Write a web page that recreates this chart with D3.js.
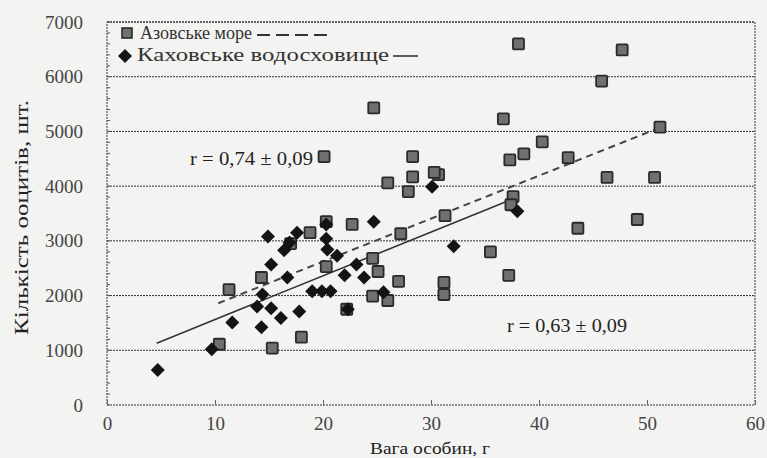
<!DOCTYPE html>
<html>
<head>
<meta charset="utf-8">
<script src="https://cdn.jsdelivr.net/npm/d3@7"></script>
<style>
  body { margin: 0; background: #f3f3f1; }
  svg { display: block; }
  svg text { font-family: 'Liberation Serif', 'DejaVu Serif', serif; }
</style>
</head>
<body>
<svg id="chart" width="767" height="458"></svg>
<script>
// Азовське море (squares): weight, g / oocytes
const azovX = [10.4, 15.3, 18.0, 11.3, 14.3, 18.8, 20.3, 22.7, 20.3, 24.6, 25.1, 27.0, 27.2, 31.3,
  26.0, 28.3, 27.9, 30.7, 30.3, 28.3, 20.1, 24.7, 35.5, 37.3, 37.2, 31.2, 31.2, 24.6, 26.0, 17.0,
  22.2, 36.7, 38.1, 47.7, 45.8, 51.2, 40.3, 38.6, 42.7, 46.3, 50.7, 37.6, 37.4, 43.6, 49.1]
const azovY = [1110, 1040, 1240, 2110, 2330, 3150, 3350, 3300, 2530, 2680, 2440, 2260, 3130, 3460,
  4060, 4170, 3900, 4210, 4250, 4540, 4540, 5430, 2800, 4480, 2370, 2240, 2020, 1990, 1910, 2950,
  1750, 5230, 6600, 6490, 5920, 5080, 4810, 4590, 4520, 4160, 4160, 3810, 3660, 3230, 3390]

// Каховське водосховище (diamonds)
const kakhX = [4.7, 9.7, 11.6, 14.3, 13.9, 15.2, 16.1, 17.8, 14.4, 14.9, 15.2, 16.4, 16.7, 16.9,
  17.6, 19.0, 19.9, 20.7, 20.3, 20.3, 20.4, 21.3, 22.0, 22.3, 23.1, 23.8, 24.7, 25.6, 30.1, 32.1, 38.0]
const kakhY = [640, 1020, 1510, 1420, 1800, 1770, 1590, 1710, 2020, 3080, 2570, 2830, 2330, 2970,
  3150, 2080, 2080, 2080, 3300, 3040, 2840, 2730, 2370, 1750, 2570, 2330, 3350, 2060, 3990, 2900, 3540]

// trend lines, end points
const azovTrendX = [10.3, 51.2]
const azovTrendY = [1860, 5070]
const kakhTrendX = [4.6, 38.0]
const kakhTrendY = [1130, 3800]

const xTicks = [0, 10, 20, 30, 40, 50, 60]
const yTicks = [0, 1000, 2000, 3000, 4000, 5000, 6000, 7000]

const legendNames = ['Азовське море', 'Каховське водосховище']
const rLabels = ['r = 0,74 ± 0,09', 'r = 0,63 ± 0,09']

const svg = d3.select('#chart')

const plotLeft = 107, plotRight = 755, plotTop = 22, plotBottom = 405
const serif = 'Liberation Serif'

const xScale = d3.scaleLinear().domain([0, 60]).range([plotLeft, plotRight])
const yScale = d3.scaleLinear().domain([0, 7000]).range([plotBottom, plotTop])

// grid lines
svg.append('g')
  .selectAll('line')
  .data(yTicks.slice(1))
  .join('line')
  .attr('x1', plotLeft).attr('x2', plotRight)
  .attr('y1', d => yScale(d)).attr('y2', d => yScale(d))
  .attr('stroke', '#333')
  .attr('stroke-width', 1)
  .attr('stroke-dasharray', '2,1')

// plot border
svg.append('rect')
  .attr('x', plotLeft).attr('y', plotTop)
  .attr('width', plotRight - plotLeft).attr('height', plotBottom - plotTop)
  .attr('fill', 'none')
  .attr('stroke', '#333')
  .attr('stroke-dasharray', '2,1')

// y axis
const yAxis = d3.axisLeft(yScale).tickValues(yTicks).tickFormat(d3.format('d')).tickSize(0).tickPadding(24)
const yG = svg.append('g').attr('transform', `translate(${plotLeft}, 0)`).call(yAxis)
yG.attr('font-family', serif)
yG.select('.domain').remove()
yG.selectAll('text')
  .attr('font-size', 19)
  .attr('fill', '#444')

// minor ticks inside the left border
svg.append('g')
  .selectAll('line')
  .data(d3.range(0, 7001, 200))
  .join('line')
  .attr('x1', plotLeft).attr('x2', plotLeft + 3)
  .attr('y1', d => yScale(d)).attr('y2', d => yScale(d))
  .attr('stroke', '#555')

// x axis
const xAxis = d3.axisBottom(xScale).tickValues(xTicks).tickSize(-5).tickPadding(12)
const xG = svg.append('g').attr('transform', `translate(0, ${plotBottom})`).call(xAxis)
xG.attr('font-family', serif)
xG.select('.domain').remove()
xG.selectAll('line').attr('stroke', '#666')
xG.selectAll('text')
  .attr('font-size', 19)
  .attr('fill', '#444')

// axis titles
svg.append('text')
  .attr('x', 370).attr('y', 454)
  .attr('font-size', 17)
  .attr('fill', '#222')
  .attr('textLength', 120).attr('lengthAdjust', 'spacingAndGlyphs')
  .text('Вага особин, г')

svg.append('text')
  .attr('transform', 'translate(28, 335) rotate(-90)')
  .attr('font-size', 18)
  .attr('fill', '#222')
  .attr('textLength', 235).attr('lengthAdjust', 'spacingAndGlyphs')
  .text('Кількість ооцитів, шт.')

// trend lines
const line = d3.line().x(d => xScale(d[0])).y(d => yScale(d[1]))

svg.append('path')
  .datum(d3.zip(azovTrendX, azovTrendY))
  .attr('d', line)
  .attr('fill', 'none')
  .attr('stroke', '#444')
  .attr('stroke-width', 2)
  .attr('stroke-dasharray', '7,5')

svg.append('path')
  .datum(d3.zip(kakhTrendX, kakhTrendY))
  .attr('d', line)
  .attr('fill', 'none')
  .attr('stroke', '#333')
  .attr('stroke-width', 1.6)

// markers
const sq = 11
svg.append('g')
  .selectAll('rect')
  .data(d3.zip(azovX, azovY))
  .join('rect')
  .attr('x', d => xScale(d[0]) - sq / 2)
  .attr('y', d => yScale(d[1]) - sq / 2)
  .attr('width', sq).attr('height', sq)
  .attr('rx', 1)
  .attr('fill', '#707070')
  .attr('stroke', '#2a2a2a')
  .attr('stroke-width', 1.8)

const diamond = d3.symbol().type(d3.symbolDiamond2).size(125)
svg.append('g')
  .selectAll('path')
  .data(d3.zip(kakhX, kakhY))
  .join('path')
  .attr('transform', d => `translate(${xScale(d[0])}, ${yScale(d[1])})`)
  .attr('d', diamond)
  .attr('fill', '#141414')

// correlation labels
svg.append('text')
  .attr('x', 190).attr('y', yScale(4380))
  .attr('font-size', 18).attr('fill', '#222')
  .attr('textLength', 123).attr('lengthAdjust', 'spacingAndGlyphs')
  .text(rLabels[0])

svg.append('text')
  .attr('x', 507).attr('y', yScale(1330))
  .attr('font-size', 18).attr('fill', '#222')
  .attr('textLength', 120).attr('lengthAdjust', 'spacingAndGlyphs')
  .text(rLabels[1])

// legend
const lg = svg.append('g')
lg.append('rect')
  .attr('x', 122).attr('y', 28).attr('width', 10).attr('height', 10)
  .attr('fill', '#707070').attr('stroke', '#2a2a2a').attr('stroke-width', 1.6)
lg.append('text')
  .attr('x', 140).attr('y', 39)
  .attr('font-size', 19).attr('fill', '#333')
  .attr('textLength', 112).attr('lengthAdjust', 'spacingAndGlyphs')
  .text(legendNames[0])
lg.append('line')
  .attr('x1', 257).attr('x2', 333).attr('y1', 35).attr('y2', 35)
  .attr('stroke', '#333').attr('stroke-width', 2).attr('stroke-dasharray', '13,6')

lg.append('path')
  .attr('transform', 'translate(125, 56)')
  .attr('d', diamond)
  .attr('fill', '#141414')
lg.append('text')
  .attr('x', 137).attr('y', 61)
  .attr('font-size', 19).attr('fill', '#333')
  .attr('textLength', 252).attr('lengthAdjust', 'spacingAndGlyphs')
  .text(legendNames[1])
lg.append('line')
  .attr('x1', 393).attr('x2', 418).attr('y1', 56).attr('y2', 56)
  .attr('stroke', '#333').attr('stroke-width', 1.6)
</script>
</body>
</html>
